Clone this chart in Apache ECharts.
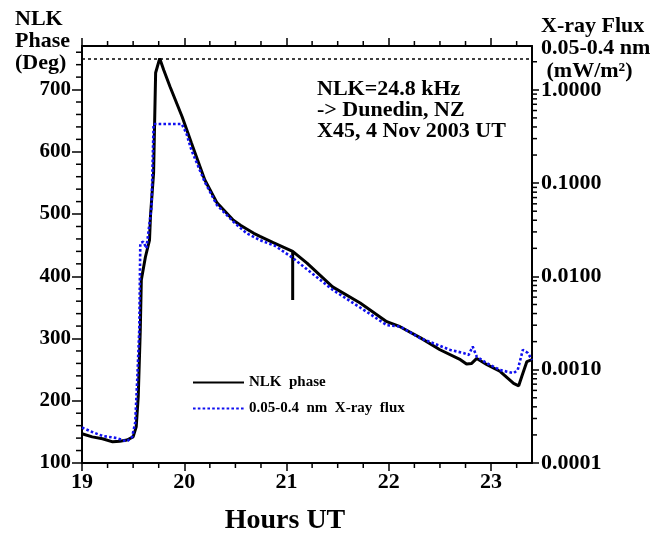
<!DOCTYPE html>
<html>
<head>
<meta charset="utf-8">
<script src="https://cdn.jsdelivr.net/npm/echarts@6/dist/echarts.min.js"></script>
<style>
  html, body { margin: 0; padding: 0; background: #ffffff; }
  #chart { width: 665px; height: 537px; }
</style>
</head>
<body>
<div id="chart"></div>
<script>
// NLK phase (degrees) against time (hours UT)
const phaseHours = [19.00, 19.10, 19.20, 19.30, 19.37, 19.44, 19.50, 19.53, 19.55, 19.57, 19.58, 19.62, 19.66, 19.67,
  19.70, 19.72, 19.76, 19.80, 19.86, 19.98, 20.07, 20.20, 20.32, 20.48, 20.55, 20.61, 20.68, 20.74, 20.87,
  21.06, 21.06, 21.06, 21.20, 21.45, 21.72, 21.98, 22.11, 22.31, 22.50, 22.70, 22.76, 22.81, 22.86, 22.96,
  23.09, 23.22, 23.27, 23.30, 23.35, 23.40];
const phaseDeg = [147, 142, 139, 134, 135, 137, 142, 158, 207, 314, 394, 431, 458, 498,
  566, 727, 750, 731, 705, 656, 614, 555, 518, 490, 482, 476, 469, 464, 454,
  440, 362, 440, 421, 383, 357, 327, 319, 301, 282, 266, 259, 260, 268, 258,
  247, 228, 224, 239, 263, 266];

// 0.05-0.4 nm X-ray flux (mW/m^2) against time (hours UT)
const fluxHours = [19.00, 19.10, 19.20, 19.34, 19.44, 19.49, 19.52, 19.54, 19.56, 19.57, 19.60, 19.63, 19.68, 19.70,
  19.975, 20.02, 20.07, 20.20, 20.32, 20.48, 20.55, 20.61, 20.74, 20.89, 21.06, 21.45, 21.78, 21.98, 22.11,
  22.31, 22.43, 22.60, 22.73, 22.78, 22.82, 22.86, 22.96, 23.09, 23.22, 23.26, 23.31, 23.36, 23.40];
const fluxMw = [0.00024, 0.000215, 0.000195, 0.000185, 0.00017, 0.00019, 0.00027, 0.00078, 0.0027, 0.0228, 0.0235, 0.020, 0.056, 0.43,
  0.43, 0.344, 0.226, 0.103, 0.058, 0.0386, 0.033, 0.029, 0.0245, 0.0212, 0.0158, 0.0072, 0.0042, 0.0030, 0.0029,
  0.00217, 0.00193, 0.00163, 0.00151, 0.00144, 0.00177, 0.00138, 0.00117, 0.00099, 0.00092, 0.00099, 0.00163, 0.00151, 0.00127];

// Axis ticks
const hourTicks = [19, 20, 21, 22, 23];
const phaseTicks = [100, 200, 300, 400, 500, 600, 700];
const fluxTicks = [0.0001, 0.001, 0.01, 0.1, 1];
const phaseRefLine = 750;

const HOUR_MIN = 19, HOUR_MAX = 23.4;
const PHASE_MIN = 100, PHASE_MAX = 770;
const FLUX_MIN = 0.0001, FLUX_MAX = 2.95;

// minor ticks: quarter hours, every 20 degrees, 2..9 within each decade
const hourMinor = [];
for (let h = HOUR_MIN; h <= HOUR_MAX + 1e-9; h += 0.25) {
  if (Math.abs(h - Math.round(h)) > 1e-6) hourMinor.push(+h.toFixed(2));
}
const phaseMinor = [];
for (let p = PHASE_MIN; p <= PHASE_MAX; p += 20) {
  if (p % 100 !== 0) phaseMinor.push(p);
}
const fluxMinor = [];
for (let e = -4; e <= 0; e++) {
  for (let k = 2; k <= 9; k++) {
    const v = k * Math.pow(10, e);
    if (v <= FLUX_MAX) fluxMinor.push(+v.toPrecision(3));
  }
}

const FONT = '"Liberation Serif", "Times New Roman", serif';
const AXIS_LINE = { show: true, lineStyle: { color: '#000', width: 2 } };
const TICK_STROKE = { stroke: '#000', lineWidth: 1.5 };
const labelStyle = (size, margin) => ({ fontFamily: FONT, fontWeight: 'bold', fontSize: size, color: '#000', margin: margin });
const tickStyle = (values, len) => ({ show: true, customValues: values, length: len, lineStyle: { color: '#000', width: 1.5 } });

function tickLine(x1, y1, x2, y2) {
  return { type: 'line', shape: { x1: x1, y1: y1, x2: x2, y2: y2 }, style: TICK_STROKE };
}

// short minor ticks drawn outside the frame at axis values
const minorTickSeries = [
  { // quarter hours, bottom and top edges
    type: 'custom', xAxisIndex: 0, yAxisIndex: 0, silent: true, clip: false, z: 5,
    data: hourMinor.map(h => [h, PHASE_MIN]),
    renderItem: (params, api) => {
      const b = api.coord([api.value(0), PHASE_MIN]);
      const t = api.coord([api.value(0), PHASE_MAX]);
      return { type: 'group', children: [tickLine(b[0], b[1], b[0], b[1] + 5), tickLine(t[0], t[1], t[0], t[1] - 5)] };
    }
  },
  { // phase, left edge
    type: 'custom', xAxisIndex: 0, yAxisIndex: 0, silent: true, clip: false, z: 5,
    data: phaseMinor.map(p => [HOUR_MIN, p]),
    renderItem: (params, api) => {
      const c = api.coord([HOUR_MIN, api.value(1)]);
      return tickLine(c[0] - 6, c[1], c[0], c[1]);
    }
  },
  { // flux decades, right edge
    type: 'custom', xAxisIndex: 0, yAxisIndex: 1, silent: true, clip: false, z: 5,
    data: fluxMinor.map(f => [HOUR_MAX, f]),
    renderItem: (params, api) => {
      const c = api.coord([HOUR_MAX, api.value(1)]);
      return tickLine(c[0], c[1], c[0] + 5, c[1]);
    }
  }
];

const option = {
  animation: false,
  backgroundColor: '#ffffff',
  grid: { left: 82, right: 133, top: 46, bottom: 74 },
  xAxis: [
    {
      type: 'value', position: 'bottom', min: HOUR_MIN, max: HOUR_MAX,
      axisLine: AXIS_LINE, axisTick: tickStyle(hourTicks, 8),
      axisLabel: Object.assign({ customValues: hourTicks }, labelStyle(22, 8)),
      splitLine: { show: false }
    },
    {
      type: 'value', position: 'top', min: HOUR_MIN, max: HOUR_MAX,
      axisLine: AXIS_LINE, axisTick: tickStyle(hourTicks, 8),
      axisLabel: { show: false }, splitLine: { show: false }
    }
  ],
  yAxis: [
    {
      type: 'value', position: 'left', min: PHASE_MIN, max: PHASE_MAX,
      axisLine: AXIS_LINE, axisTick: tickStyle(phaseTicks, 10),
      axisLabel: Object.assign({ customValues: phaseTicks }, labelStyle(21, 11)),
      splitLine: { show: false }
    },
    {
      type: 'log', logBase: 10, position: 'right', min: FLUX_MIN, max: FLUX_MAX,
      axisLine: AXIS_LINE, axisTick: tickStyle(fluxTicks, 7),
      axisLabel: Object.assign({ customValues: fluxTicks, formatter: v => Number(v).toFixed(4) }, labelStyle(22, 9)),
      splitLine: { show: false }
    }
  ],
  legend: {
    orient: 'vertical', left: 192, top: 375, padding: 0,
    itemWidth: 51, itemHeight: 14, itemGap: 11,
    itemStyle: { opacity: 0 },
    textStyle: { fontFamily: FONT, fontWeight: 'bold', fontSize: 15, color: '#000' },
    data: ['NLK  phase', '0.05-0.4  nm  X-ray  flux']
  },
  series: [
    {
      name: 'NLK  phase', type: 'line', xAxisIndex: 0, yAxisIndex: 0,
      data: phaseHours.map((h, i) => [h, phaseDeg[i]]),
      symbol: 'none', color: '#000',
      lineStyle: { color: '#000', width: 3 },
      z: 3,
      markLine: {
        silent: true, symbol: 'none', label: { show: false },
        lineStyle: { color: '#000', type: [3, 3], width: 1.5 },
        data: [{ yAxis: phaseRefLine }]
      }
    },
    {
      name: '0.05-0.4  nm  X-ray  flux', type: 'line', xAxisIndex: 0, yAxisIndex: 1,
      data: fluxHours.map((h, i) => [h, fluxMw[i]]),
      symbol: 'none', color: '#1010f0',
      lineStyle: { color: '#1010f0', width: 2.6, type: [2.6, 2.2] },
      z: 4
    }
  ].concat(minorTickSeries),
  graphic: [
    { type: 'text', left: 15, top: 8,
      style: { text: 'NLK\nPhase\n(Deg)', font: 'bold 22px ' + FONT, lineHeight: 22, fill: '#000' } },
    { type: 'text', left: 541, top: 15,
      style: { text: 'X-ray Flux\n0.05-0.4 nm\n (mW/m²)', font: 'bold 22px ' + FONT, lineHeight: 22.5, fill: '#000' } },
    { type: 'text', left: 317, top: 78,
      style: { text: 'NLK=24.8 kHz\n-> Dunedin, NZ\nX45, 4 Nov 2003 UT', font: 'bold 22px ' + FONT, lineHeight: 21, fill: '#000' } },
    { type: 'text', x: 285, y: 521,
      style: { text: 'Hours UT', font: 'bold 28px ' + FONT, fill: '#000', textAlign: 'center', textVerticalAlign: 'middle' } }
  ]
};

const chart = echarts.init(document.getElementById('chart'), null, { renderer: 'canvas' });
chart.setOption(option);
</script>
</body>
</html>
